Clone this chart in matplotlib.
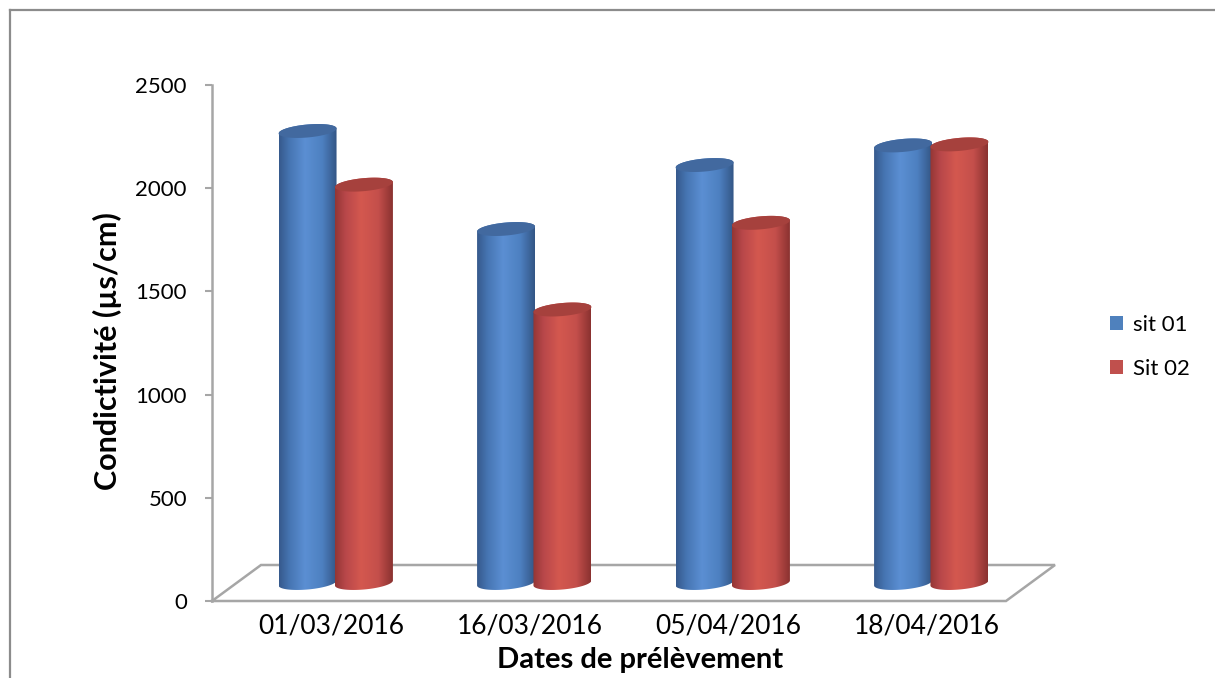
import numpy as np
import matplotlib.pyplot as plt
from matplotlib.patches import Polygon, Patch
from matplotlib.lines import Line2D
from matplotlib.colors import LinearSegmentedColormap

dates = ['01/03/2016', '16/03/2016', '05/04/2016', '18/04/2016']
sit01 = [2190, 1715, 2025, 2120]
sit02 = [1930, 1325, 1745, 2125]
series = ['sit 01', 'Sit 02']
yticks = [0, 500, 1000, 1500, 2000, 2500]

plt.rcParams['font.family'] = ['Lato', 'DejaVu Sans']

W, H = 1215, 678
fig = plt.figure(figsize=(W / 100, H / 100), dpi=100)

# plot box (front plane) in pixels: x 212..1006, y 85..601
ax = fig.add_axes([212 / W, (H - 601) / H, 794 / W, 516 / H])
ppx = 794 / 4
ppy = 516 / 2500

# depth of the floor, and the half depth where the cylinders stand
depth_x, depth_y = 49 / ppx, 36 / ppy
mid_x, mid_y = depth_x / 2, depth_y / 2
rx = 0.146             # cylinder radius (category units)
ry = 6.5 / ppy         # half height of the end ellipses
tilt = 2.5 / ppy       # ellipses lean up to the right

grey = '#a6a6a6'

# floor
fx = [0, 4, 4 + depth_x, depth_x, 0]
fy = [0, 0, depth_y, depth_y, 0]
ax.plot(fx, fy, color=grey, lw=1.8, clip_on=False, zorder=1, solid_joinstyle='miter')

blue_cmap = LinearSegmentedColormap.from_list(
    'blue', [(0, '#36598c'), (0.18, '#4675b2'), (0.45, '#5b8fd3'),
             (0.75, '#4d80c0'), (1, '#335585')])
red_cmap = LinearSegmentedColormap.from_list(
    'red', [(0, '#933634'), (0.18, '#b8474a'), (0.45, '#d4584f'),
            (0.75, '#c44f4b'), (1, '#8a3230')])


def ellipse_pts(xc, yc, t):
    c, s = np.cos(t), np.sin(t)
    return np.column_stack([xc + rx * c, yc + ry * s + tilt * c])


def cylinder(xc, value, cmap, top_color, z):
    xc = xc + mid_x
    base = mid_y
    top = mid_y + value
    outline = np.vstack([ellipse_pts(xc, base, np.linspace(np.pi, 2 * np.pi, 60)),
                         ellipse_pts(xc, top, np.linspace(0, np.pi, 60))])
    body = Polygon(outline, closed=True, facecolor='none', edgecolor='none', zorder=z)
    ax.add_patch(body)
    grad = np.linspace(0, 1, 256)[None, :]
    im = ax.imshow(grad, cmap=cmap, aspect='auto', interpolation='bilinear',
                   extent=[xc - rx, xc + rx, base - ry - tilt - 5, top + ry + tilt + 5],
                   zorder=z)
    im.set_clip_path(body)
    cap = Polygon(ellipse_pts(xc, top, np.linspace(0, 2 * np.pi, 80)), closed=True,
                  facecolor=top_color, edgecolor='none', zorder=z + 0.5)
    ax.add_patch(cap)


for i in range(len(dates)):
    cylinder(i + 0.5 - 0.142, sit01[i], blue_cmap, '#42699f', 2 + i)
    cylinder(i + 0.5 + 0.142, sit02[i], red_cmap, '#a6413d', 2.2 + i)

ax.set_xlim(0, 4)
ax.set_ylim(0, 2500)

for side in ['top', 'right', 'bottom']:
    ax.spines[side].set_visible(False)
ax.spines['left'].set_color(grey)
ax.spines['left'].set_linewidth(1.8)
ax.set_facecolor('none')

ax.set_yticks(yticks)
ax.tick_params(axis='y', length=5, width=1.5, color=grey, pad=13, labelsize=16)
ax.set_xticks([i + 0.5 + 20 / ppx for i in range(len(dates))])
ax.set_xticklabels(dates)
ax.tick_params(axis='x', length=0, pad=9, labelsize=19)

fig.text(107 / W, 1 - 351 / H, 'Condictivité (µs/cm)', rotation=90,
         ha='center', va='center', fontsize=22, fontweight='bold')
fig.text(640 / W, 1 - 660 / H, 'Dates de prélèvement',
         ha='center', va='center', fontsize=21, fontweight='bold')

handles = [Patch(facecolor='#4f81bd'), Patch(facecolor='#c0504d')]
fig.legend(handles, series, loc='center left', bbox_to_anchor=(1090 / W, 1 - 347 / H),
           frameon=False, fontsize=16, handlelength=0.6, handleheight=0.6,
           handletextpad=0.45, labelspacing=1.1)

# outer chart border (only top and left visible)
fig.add_artist(Line2D([10 / W, 1], [1 - 10 / H, 1 - 10 / H], color='#8c8c8c', lw=1.6))
fig.add_artist(Line2D([10 / W, 10 / W], [0, 1 - 10 / H], color='#8c8c8c', lw=1.6))

fig.savefig('out.png', dpi=100)
